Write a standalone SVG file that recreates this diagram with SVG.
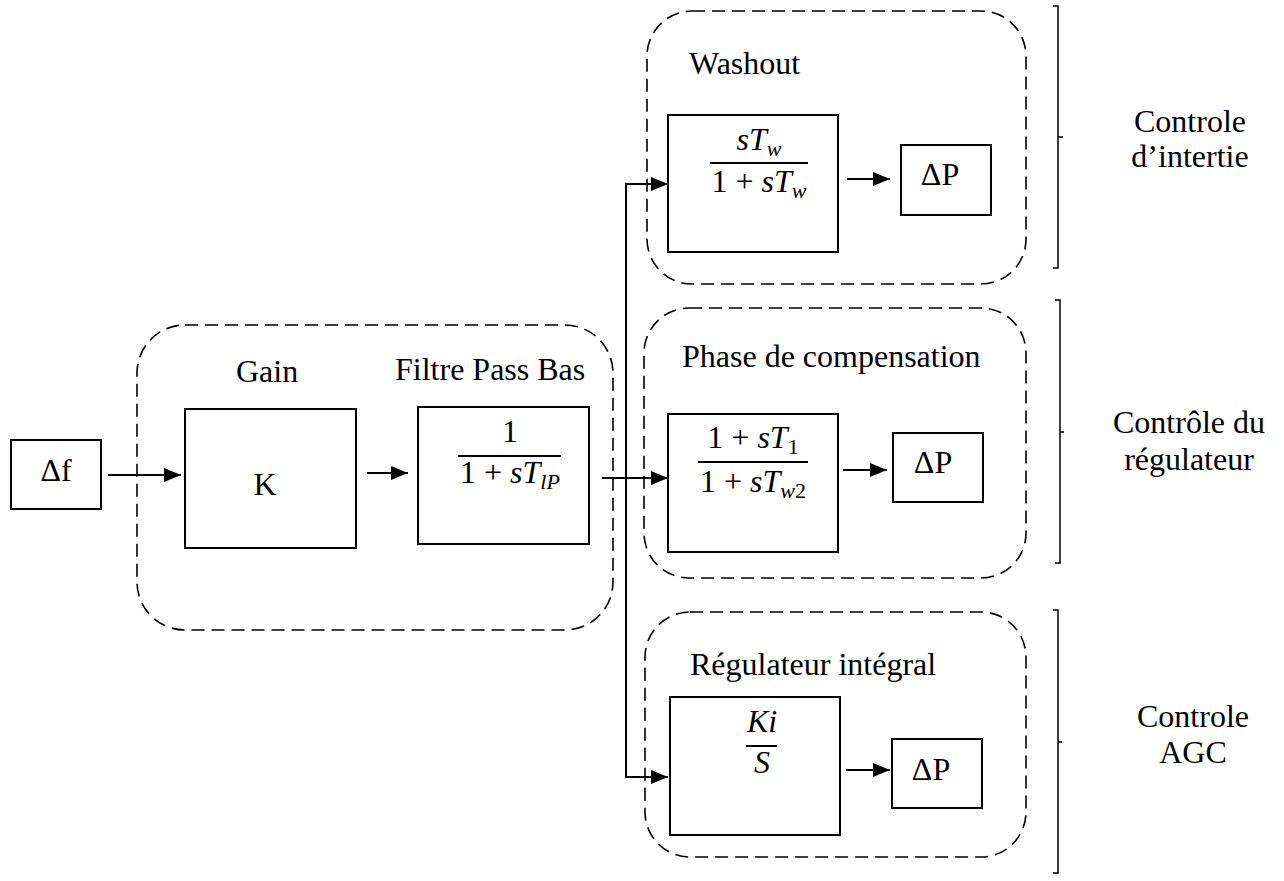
<svg xmlns="http://www.w3.org/2000/svg" width="1284" height="881" viewBox="0 0 1284 881">
<style>
.t{font-family:"Liberation Serif","Times New Roman",serif;font-size:32px;fill:#000}
.m{font-family:"Liberation Serif","Times New Roman",serif;font-size:32px;fill:#000}
.i{font-style:italic}
.sub{font-size:22px;font-style:italic}
.box{fill:#fff;stroke:#000;stroke-width:2}
.dash{fill:none;stroke:#000;stroke-width:1.6;stroke-dasharray:13 7}
.bar{stroke:#000;stroke-width:2}
.ln{fill:none;stroke:#000;stroke-width:2}
.br{fill:none;stroke:#000;stroke-width:1.5}
</style>
<defs>
<marker id="ah" markerUnits="userSpaceOnUse" markerWidth="18" markerHeight="14" refX="17" refY="7" orient="auto">
<path d="M0,0 L17,7 L0,14 z" fill="#000"/>
</marker>
</defs>
<rect width="1284" height="881" fill="#fff"/>

<g id="groups">
<rect class="dash" x="137" y="325" width="476" height="305" rx="48" ry="48"/>
<rect class="dash" x="647" y="11" width="379" height="273" rx="45" ry="45"/>
<rect class="dash" x="644" y="308" width="382" height="270" rx="45" ry="45"/>
<rect class="dash" x="645" y="612" width="381" height="245" rx="45" ry="45"/>
<text class="t" x="236" y="382">Gain</text>
<text class="t" x="395" y="380">Filtre Pass Bas</text>
<text class="t" x="689" y="74">Washout</text>
<text class="t" x="682" y="367">Phase de compensation</text>
<text class="t" x="690" y="675">Régulateur intégral</text>
</g>

<g id="connectors">
<line class="ln" x1="108" y1="475" x2="181" y2="475" marker-end="url(#ah)"/>
<line class="ln" x1="367" y1="473" x2="408" y2="473" marker-end="url(#ah)"/>
<line class="ln" x1="602" y1="478" x2="668" y2="478" marker-end="url(#ah)"/>
<polyline class="ln" points="668,184 626,184 626,777 668,777" marker-end="url(#ah)"/>
<line class="ln" x1="626" y1="184" x2="668" y2="184" marker-end="url(#ah)"/>
<line class="ln" x1="847" y1="179" x2="890" y2="179" marker-end="url(#ah)"/>
<line class="ln" x1="843" y1="470" x2="887" y2="470" marker-end="url(#ah)"/>
<line class="ln" x1="846" y1="770" x2="890" y2="770" marker-end="url(#ah)"/>
</g>

<g id="node-df">
<rect class="box" x="11" y="440" width="90" height="69"/>
<text class="t" x="56" y="481" text-anchor="middle">Δf</text>
</g>

<g id="node-gain">
<rect class="box" x="185" y="409" width="171" height="139"/>
<text class="t" x="265" y="495" text-anchor="middle">K</text>
</g>

<g id="node-filter">
<rect class="box" x="418" y="407" width="171" height="137"/>
<text class="m" x="510" y="442" text-anchor="middle">1</text>
<line class="bar" x1="458" y1="456" x2="561" y2="456"/>
<text class="m" x="510" y="483" text-anchor="middle">1 + <tspan class="i">sT</tspan><tspan class="sub" dy="6">lP</tspan></text>
</g>

<g id="node-washout">
<rect class="box" x="668" y="115" width="170" height="137"/>
<text class="m" x="759" y="150" text-anchor="middle"><tspan class="i">sT</tspan><tspan class="sub" dy="6">w</tspan></text>
<line class="bar" x1="710" y1="163" x2="808" y2="163"/>
<text class="m" x="759" y="192" text-anchor="middle">1 + <tspan class="i">sT</tspan><tspan class="sub" dy="6">w</tspan></text>
</g>

<g id="node-dp1">
<rect class="box" x="901" y="145" width="90" height="70"/>
<text class="t" x="940" y="185" text-anchor="middle">ΔP</text>
</g>

<g id="node-phase">
<rect class="box" x="668" y="414" width="170" height="138"/>
<text class="m" x="753" y="448" text-anchor="middle">1 + <tspan class="i">sT</tspan><tspan font-size="22" dy="6">1</tspan></text>
<line class="bar" x1="698" y1="462" x2="808" y2="462"/>
<text class="m" x="753" y="492" text-anchor="middle">1 + <tspan class="i">sT</tspan><tspan class="sub" dy="6">w</tspan><tspan font-size="22">2</tspan></text>
</g>

<g id="node-dp2">
<rect class="box" x="893" y="433" width="90" height="69"/>
<text class="t" x="933" y="473" text-anchor="middle">ΔP</text>
</g>

<g id="node-integral">
<rect class="box" x="670" y="697" width="170" height="138"/>
<text class="m i" x="762" y="732" text-anchor="middle">Ki</text>
<line class="bar" x1="746" y1="746" x2="777" y2="746"/>
<text class="m i" x="762" y="773" text-anchor="middle">S</text>
</g>

<g id="node-dp3">
<rect class="box" x="892" y="739" width="90" height="69"/>
<text class="t" x="931" y="780" text-anchor="middle">ΔP</text>
</g>

<g id="brackets">
<path class="br" d="M1053,6 H1058 V268 H1053 M1058,137 H1063"/>
<path class="br" d="M1055,300 H1060 V563 H1055 M1060,432 H1064"/>
<path class="br" d="M1053,610 H1058 V873 H1053 M1058,742 H1062"/>
<text class="t" x="1190" y="132" text-anchor="middle">Controle</text>
<text class="t" x="1190" y="167" text-anchor="middle">d’intertie</text>
<text class="t" x="1189" y="433" text-anchor="middle">Contrôle du</text>
<text class="t" x="1189" y="470" text-anchor="middle">régulateur</text>
<text class="t" x="1193" y="727" text-anchor="middle">Controle</text>
<text class="t" x="1193" y="763" text-anchor="middle">AGC</text>
</g>
</svg>
